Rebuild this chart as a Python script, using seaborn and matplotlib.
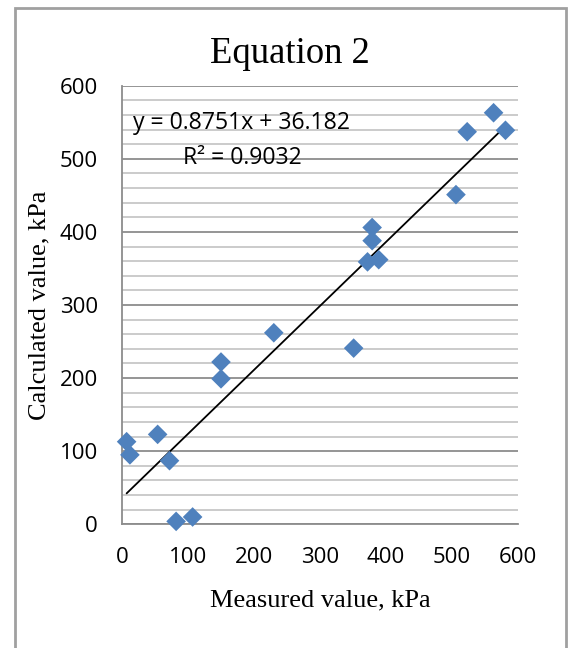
import numpy as np
import pandas as pd
import matplotlib
matplotlib.use("Agg")
import matplotlib.pyplot as plt
import seaborn as sns
from matplotlib.patches import Rectangle
from matplotlib.ticker import MultipleLocator

# ---- data ----
measured = [7, 12, 54, 72, 82, 107, 150, 150, 230, 351, 379, 379, 372, 389, 506, 523, 563, 581]
calculated = [113, 95, 123, 87, 4, 10, 222, 199, 262, 241, 406, 388, 359, 362, 451, 537, 563, 539]
slope = 0.8751
intercept = 36.182
r_squared = 0.9032
title = "Equation 2"
x_label = "Measured value, kPa"
y_label = "Calculated value, kPa"
ticks = [0, 100, 200, 300, 400, 500, 600]

df = pd.DataFrame({"measured": measured, "calculated": calculated})
x_fit = [min(measured), max(measured)]
fit_df = pd.DataFrame({"x": x_fit, "y": [slope * v + intercept for v in x_fit]})

sns.set_theme(style="white")
plt.rcParams["font.family"] = ["Open Sans", "DejaVu Sans"]

W, H = 574, 648
fig = plt.figure(figsize=(W / 100, H / 100), dpi=100)
x0, x1, y0, y1 = 122, 518, 85.7, 524.3
ax = fig.add_axes([x0 / W, 1 - y1 / H, (x1 - x0) / W, (y1 - y0) / H])

ax.set_xlim(0, 600)
ax.set_ylim(0, 600)
ax.set_xticks(ticks)
ax.set_yticks(ticks)
ax.yaxis.set_minor_locator(MultipleLocator(20))

ax.grid(False)
ax.yaxis.grid(True, which="major", color="#8C8C8C", linewidth=1.3)
ax.yaxis.grid(True, which="minor", color="#BDBDBD", linewidth=1.1)
ax.set_axisbelow(True)

sns.lineplot(data=fit_df, x="x", y="y", color="black", linewidth=1.3, ax=ax, zorder=3)
sns.scatterplot(data=df, x="measured", y="calculated", marker="D", s=100,
                color="#4F81BD", edgecolor="none", linewidth=0, ax=ax,
                clip_on=False, zorder=4)

for s in ["top", "right"]:
    ax.spines[s].set_visible(False)
for s in ["left", "bottom"]:
    ax.spines[s].set_color("#8C8C8C")
    ax.spines[s].set_linewidth(1.3)

ax.tick_params(axis="both", which="major", direction="out", length=6.5, width=1.3,
               color="#8C8C8C", labelsize=16, labelcolor="black")
ax.tick_params(axis="y", which="major", pad=11)
ax.tick_params(axis="x", which="major", pad=10)
ax.tick_params(axis="both", which="minor", length=0)

serif = ["Liberation Serif", "DejaVu Serif"]
ax.set_xlabel(x_label, family=serif, fontsize=19, va="baseline", color="black")
ax.xaxis.set_label_coords(0.5, (y1 - 606.7) / (y1 - y0))
ax.set_ylabel(y_label, family=serif, fontsize=19, color="black")
ax.yaxis.set_label_coords((50 - x0) / (x1 - x0), 0.5)

fig.text(290 / W, 1 - 62.7 / H, title, family=serif, fontsize=26.4,
         ha="center", va="baseline", color="black")

ax.text(0.303, (y1 - 129.3) / (y1 - y0), f"y = {slope}x + {intercept}",
        transform=ax.transAxes, ha="center", va="baseline", fontsize=16.6, color="black")
ax.text(0.303, (y1 - 164) / (y1 - y0), f"R\u00b2 = {r_squared}",
        transform=ax.transAxes, ha="center", va="baseline", fontsize=16.6, color="black")

fig.patches.append(Rectangle((14.5 / W, -0.05), (566 - 14.5) / W, 1 - 7.5 / H + 0.05,
                             transform=fig.transFigure, fill=False,
                             edgecolor="#A0A0A0", linewidth=2))

fig.savefig("out.png", dpi=100)
